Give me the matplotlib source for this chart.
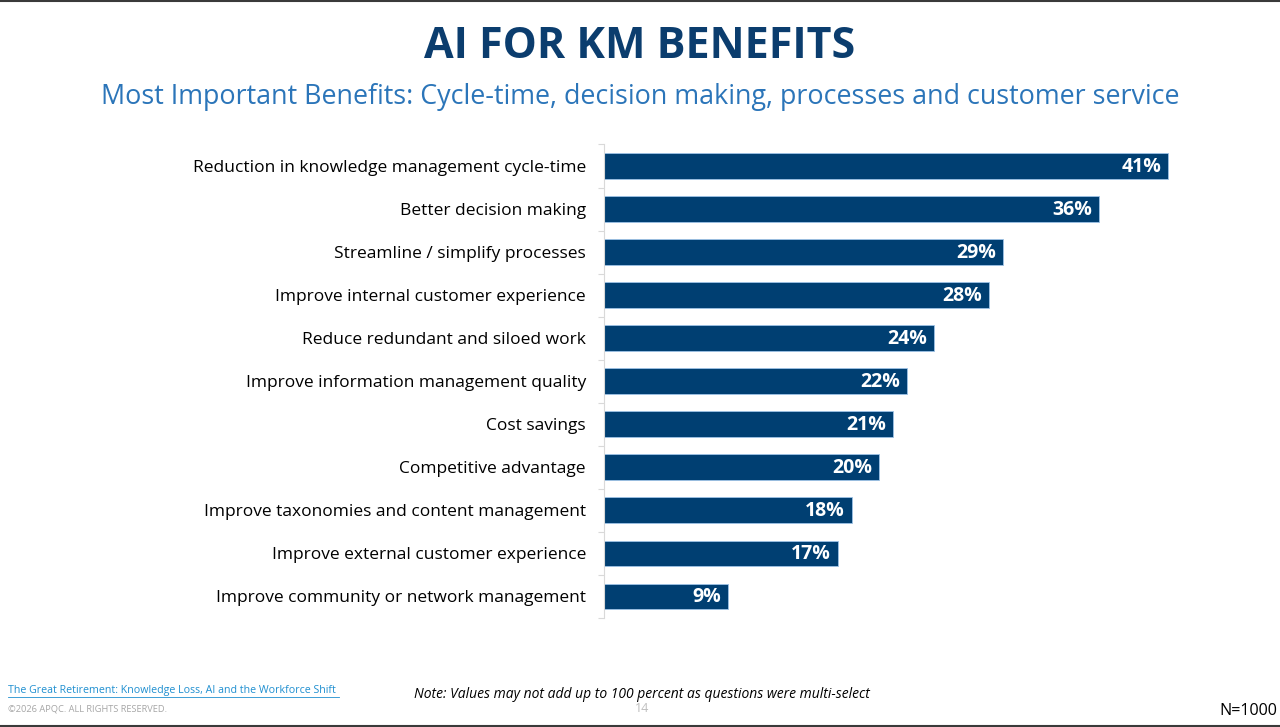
import matplotlib
matplotlib.use("Agg")
import matplotlib.pyplot as plt
import numpy as np

categories = [
    "Reduction in knowledge management cycle-time",
    "Better decision making",
    "Streamline / simplify processes",
    "Improve internal customer experience",
    "Reduce redundant and siloed work",
    "Improve information management quality",
    "Cost savings",
    "Competitive advantage",
    "Improve taxonomies and content management",
    "Improve external customer experience",
    "Improve community or network management",
]
values = [41, 36, 29, 28, 24, 22, 21, 20, 18, 17, 9]
value_labels = [f"{v}%" for v in values]

title = "AI FOR KM BENEFITS"
subtitle = "Most Important Benefits: Cycle-time, decision making, processes and customer service"

plt.rcParams['font.family'] = ['Open Sans', 'DejaVu Sans']

BAR = "#003F72"
fig = plt.figure(figsize=(12.8, 7.27), dpi=100)
fig.patch.set_facecolor("white")

ax = fig.add_axes([604/1280, 1-618/727, (1223-604)/1280, (618-144.5)/727])
y = np.arange(len(categories))
ax.barh(y, values, height=0.6, color=BAR, edgecolor="#9DC3E6", linewidth=0.6)
ax.set_xlim(0, 45)
ax.set_ylim(len(categories)-0.5, -0.5)
ax.set_yticks(y)
ax.set_yticklabels(categories, fontsize=12.5, color="black")
ax.tick_params(axis='y', which='major', length=0, pad=13)
ax.set_yticks(np.arange(-0.5, len(categories)), minor=True)
ax.tick_params(axis='y', which='minor', length=4, color="#D9D9D9", width=0.8)
ax.set_xticks([])
for s in ["top", "right", "bottom"]:
    ax.spines[s].set_visible(False)
ax.spines["left"].set_color("#D9D9D9")
ax.spines["left"].set_linewidth(0.8)

for yi, v, lab in zip(y, values, value_labels):
    ax.text(v - 0.5, yi + 0.02, lab, ha="right", va="center", color="white",
            fontsize=14, fontweight="bold")

fig.text(0.5, 1-58/727, title, ha="center", va="baseline", fontsize=31,
         fontweight="bold", color="#0B3D6E")
fig.text(0.5, 1-104/727, subtitle, ha="center", va="baseline", fontsize=19.4,
         color="#2B75B9")

fig.text(8/1280, 1-690/727, "The Great Retirement: Knowledge Loss, AI and the Workforce Shift",
         ha="left", va="center", fontsize=7.7, color="#1F8FD0")
fig.add_artist(plt.Line2D([8/1280, 339/1280], [1-696.5/727, 1-696.5/727], color="#1F8FD0", lw=0.6))
fig.text(8/1280, 1-709/727, "©2026 APQC. ALL RIGHTS RESERVED.", ha="left", va="center",
         fontsize=6.7, color="#A6A6A6")
fig.text(642/1280, 1-695/727, "Note: Values may not add up to 100 percent as questions were multi-select",
         ha="center", va="center", fontsize=10, style="italic", color="black")
fig.text(642/1280, 1-709/727, "14", ha="center", va="center", fontsize=9, color="#BFBFBF")
fig.text(1277/1280, 1-711/727, "N=1000", ha="right", va="center", fontsize=11.6, color="black")

fig.add_artist(plt.Line2D([0, 1], [1-0.8/727, 1-0.8/727], color="#3A3A3A", lw=1.5))
fig.add_artist(plt.Line2D([0, 1], [1-725.5/727, 1-725.5/727], color="#3A3A3A", lw=1.5))

fig.savefig("out.png", dpi=100, facecolor="white")
